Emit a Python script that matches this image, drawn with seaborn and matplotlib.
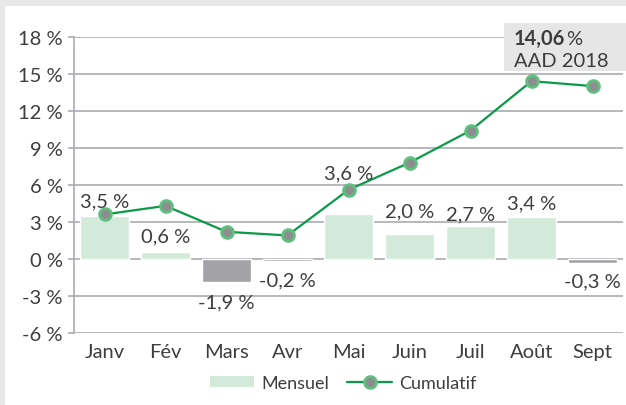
import numpy as np
import pandas as pd
import matplotlib
matplotlib.use("Agg")
import matplotlib.pyplot as plt
from matplotlib.patches import Rectangle, Patch
from matplotlib.lines import Line2D
import seaborn as sns

months = ["Janv", "Fév", "Mars", "Avr", "Mai", "Juin", "Juil", "Août", "Sept"]
mensuel = [3.5, 0.6, -1.9, -0.2, 3.6, 2.0, 2.7, 3.4, -0.3]
mensuel_labels = ["3,5 %", "0,6 %", "-1,9 %", "-0,2 %", "3,6 %", "2,0 %", "2,7 %", "3,4 %", "-0,3 %"]
cumulatif = [3.6, 4.3, 2.2, 1.9, 5.6, 7.8, 10.4, 14.4, 14.0]
yticks = [-6, -3, 0, 3, 6, 9, 12, 15, 18]
ytick_labels = ["-6 %", "-3 %", "0 %", "3 %", "6 %", "9 %", "12 %", "15 %", "18 %"]
callout_value = "14,06"
callout_text = "AAD 2018"

# layout: label offsets in pixels (layout only)
label_dy = [15, 16, -19, -18, 42, 23, 12, 14, -18]

sns.set_theme(style="white")
plt.rcParams["font.family"] = ["Lato", "DejaVu Sans"]

POS = "#d3eadb"
NEG = "#a3a3a7"
LINE = "#0b9a48"
MEDGE = "#5ec07e"
MFACE = "#8d8d8f"
GRID = "#aaabb3"
TXT = "#3d3d3d"

fig = plt.figure(figsize=(6.26, 4.06), dpi=100)
fig.patch.set_facecolor("#e8e8e8")
fig.patches.append(Rectangle((5 / 626, 0), 1, 1 - 7 / 406, transform=fig.transFigure,
                             facecolor="white", edgecolor="none", zorder=-5))

ax = fig.add_axes([74 / 626, 1 - 334 / 406, 549 / 626, (334 - 37.7) / 406])
ax.set_facecolor("none")

df = pd.DataFrame({"mois": months, "mensuel": mensuel, "cumul": cumulatif})
colors = [POS if v >= 0 else NEG for v in mensuel]
sns.barplot(data=df, x="mois", y="mensuel", hue="mois", palette=colors, legend=False,
            width=0.79, saturation=1, ax=ax, zorder=2)

x = np.arange(len(months))
sns.lineplot(x=x, y=cumulatif, ax=ax, color=LINE, linewidth=1.6, marker="o",
             markersize=8.5, markerfacecolor=MFACE, markeredgecolor=MEDGE,
             markeredgewidth=2.0, zorder=4)

ax.set_xlim(-0.5, len(months) - 0.5)
ax.set_ylim(-6, 18)
ax.set_yticks(yticks)
ax.set_yticklabels(ytick_labels)
ax.set_xticks(x)
ax.set_xticklabels(months)
for y in yticks:
    ax.axhline(y, color=GRID, linewidth=1.2, zorder=1)
for s in ["top", "right", "bottom"]:
    ax.spines[s].set_visible(False)
ax.spines["left"].set_color(GRID)
ax.spines["left"].set_linewidth(1.2)
ax.tick_params(axis="y", length=4, width=1.2, color=GRID, labelsize=14.5,
               labelcolor=TXT, pad=4, left=True)
ax.tick_params(axis="x", length=0, labelsize=14.5, labelcolor=TXT, pad=7)
ax.set_xlabel("")
ax.set_ylabel("")

for i, (v, lab, dy) in enumerate(zip(mensuel, mensuel_labels, label_dy)):
    ax.annotate(lab, xy=(i, v), xytext=(0, dy), textcoords="offset pixels",
                ha="center", va="center", fontsize=14.5, color=TXT, zorder=5)

# callout box
fig.patches.append(Rectangle((504 / 626, 1 - 72 / 406), 122 / 626, 48 / 406,
                             transform=fig.transFigure, facecolor="#e6e6e6",
                             edgecolor="none", zorder=1))
t1 = fig.text(514 / 626, 1 - 45 / 406, callout_value, fontsize=14.5, fontweight="bold",
              color=TXT, ha="left", va="baseline", zorder=3)
fig.canvas.draw()
bb = t1.get_window_extent()
fig.text((bb.x1 + 0.5) / 626, 1 - 45 / 406, "%", fontsize=14.5, color=TXT,
         ha="left", va="baseline", zorder=3)
fig.text(514 / 626, 1 - 67 / 406, callout_text, fontsize=14.5, color=TXT,
         ha="left", va="baseline", zorder=3)

handles = [Patch(facecolor=POS, edgecolor="none"),
           Line2D([], [], color=LINE, linewidth=1.6, marker="o", markersize=8.5,
                  markerfacecolor=MFACE, markeredgecolor=MEDGE, markeredgewidth=2.0)]
leg = fig.legend(handles, ["Mensuel", "Cumulatif"], loc="center left",
                 bbox_to_anchor=(210 / 626, 1 - 384 / 406), ncol=2, frameon=False,
                 fontsize=13, handlelength=2.45, handleheight=0.6, columnspacing=1.0,
                 handletextpad=0.4, borderpad=0, borderaxespad=0)
for t in leg.get_texts():
    t.set_color(TXT)

fig.savefig("out.png", dpi=100, facecolor=fig.get_facecolor())
